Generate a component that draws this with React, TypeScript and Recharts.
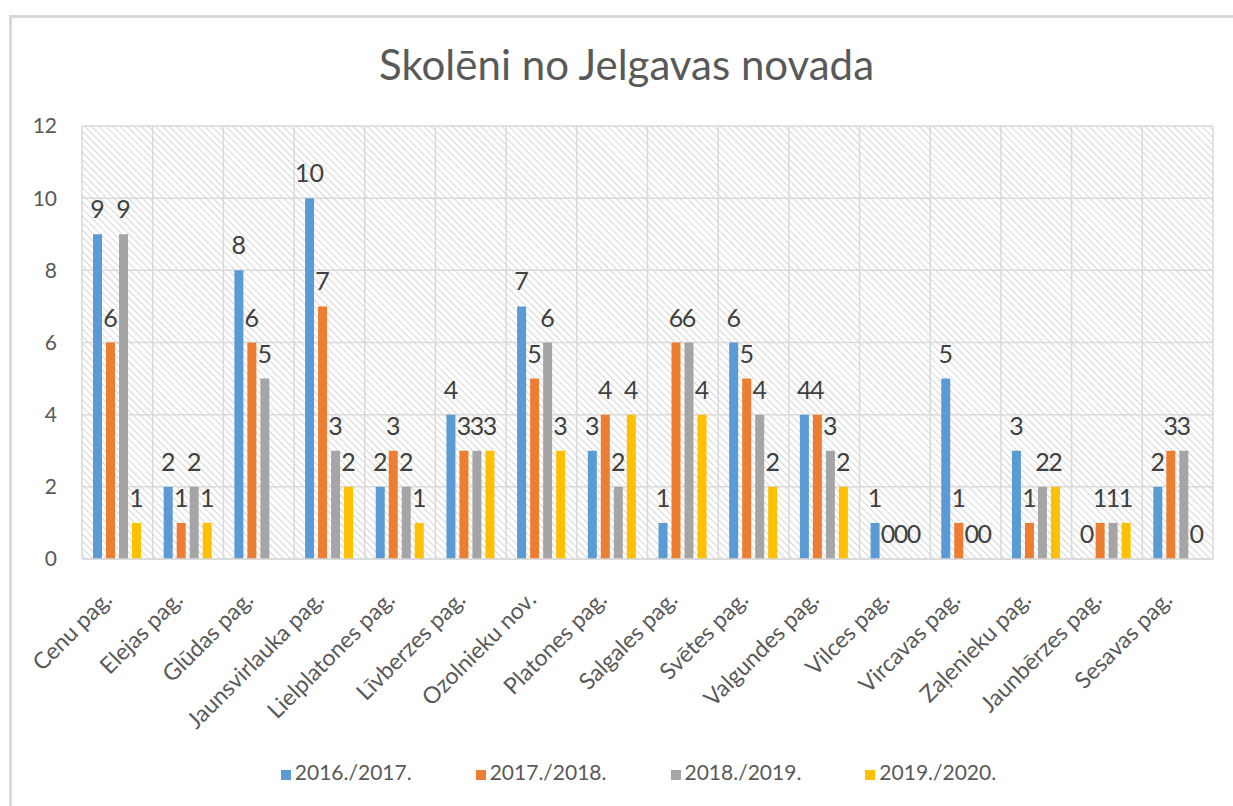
import React from 'react';
import {
  BarChart, Bar, XAxis, YAxis, CartesianGrid, Legend, LabelList, Rectangle,
} from 'recharts';

const categories = [
  'Cenu pag.', 'Elejas pag.', 'Glūdas pag.', 'Jaunsvirlauka pag.', 'Lielplatones pag.',
  'Līvberzes pag.', 'Ozolnieku nov.', 'Platones pag.', 'Salgales pag.', 'Svētes pag.',
  'Valgundes pag.', 'Vilces pag.', 'Vircavas pag.', 'Zaļenieku pag.', 'Jaunbērzes pag.',
  'Sesavas pag.',
];

const y2016 = [9, 2, 8, 10, 2, 4, 7, 3, 1, 6, 4, 1, 5, 3, 0, 2];
const y2017 = [6, 1, 6, 7, 3, 3, 5, 4, 6, 5, 4, 0, 1, 1, 1, 3];
const y2018 = [9, 2, 5, 3, 2, 3, 6, 2, 6, 4, 3, 0, 0, 2, 1, 3];
const y2019 = [1, 1, null, 2, 1, 3, 3, 4, 4, 2, 2, 0, 0, 2, 1, 0];

const yTicks = [0, 2, 4, 6, 8, 10, 12];

const seriesNames = ['2016./2017.', '2017./2018.', '2018./2019.', '2019./2020.'];
const colors = ['#5B9BD5', '#ED7D31', '#A5A5A5', '#FFC000'];

const data = categories.map((name, i) => ({
  name,
  a: y2016[i],
  b: y2017[i],
  c: y2018[i],
  d: y2019[i],
}));

const FONT = 'Lato, "Open Sans", sans-serif';
const TEXT = '#595959';

// rotated category labels, anchored at their end
const CatTick = (props: any) => {
  const { x, y, payload } = props;
  return (
    <g transform={`translate(${x - 4},${y + 34})`}>
      <text transform="rotate(-45)" textAnchor="end" fill={TEXT} fontSize={23} fontFamily={FONT}>
        {payload.value}
      </text>
    </g>
  );
};

// value label above each bar (also for zeros)
const ValueLabel = (p: any) => {
  const { x, y, width, value } = p;
  if (value === null || value === undefined) return null;
  const top = value === 0 ? Number(y) + Number(p.height || 0) : Number(y);
  return (
    <text x={Number(x) + Number(width) / 2} y={top - 16} textAnchor="middle"
      fill="#404040" fontSize={25} fontFamily={FONT}>
      {value}
    </text>
  );
};

// zero values keep a tiny point size so their labels exist, but draw no bar
const zeroMin = (v: any) => (v === 0 ? 0.01 : 0);
const BarShape = (p: any) => (p.height < 0.5 ? <g /> : <Rectangle {...p} />);

export default function App() {
  const keys = ['a', 'b', 'c', 'd'];
  return (
    <div style={{ position: 'absolute', left: 0, top: 0, width: 1233, height: 806, background: '#fff', fontFamily: FONT }}>
      <div style={{
        position: 'absolute', left: 9, top: 15, width: 1230, height: 795,
        borderLeft: '3px solid #d9d9d9', borderTop: '3px solid #d9d9d9', boxSizing: 'border-box',
      }} />
      <div style={{
        position: 'absolute', left: 0, top: 39, width: 1253, textAlign: 'center',
        fontSize: 42, color: TEXT, fontFamily: FONT,
      }}>
        Skolēni no Jelgavas novada
      </div>
      <div style={{ position: 'absolute', left: 0, top: 0 }}>
        <BarChart
          width={1233}
          height={806}
          data={data}
          margin={{ top: 126, right: 20, bottom: 22, left: 0 }}
          barSize={9}
          barGap={4}
        >
          <defs>
            <pattern id="hatch" width="5" height="5" patternUnits="userSpaceOnUse" patternTransform="rotate(-45)">
              <rect width="5" height="5" fill="#ffffff" />
              <line x1="0" y1="0" x2="0" y2="5" stroke="#d6d6d6" strokeWidth="2" />
            </pattern>
          </defs>
          <CartesianGrid
            fill="url(#hatch)"
            stroke="#d9d9d9"
            strokeWidth={1.5}
            verticalCoordinatesGenerator={({ offset }: any) =>
              Array.from({ length: categories.length + 1 }, (_, i) => offset.left + (i * offset.width) / categories.length)
            }
          />
          <XAxis
            dataKey="name"
            interval={0}
            height={200}
            tickLine={false}
            axisLine={{ stroke: '#d9d9d9', strokeWidth: 1.5 }}
            tick={<CatTick />}
          />
          <YAxis
            width={82}
            domain={[0, 12]}
            ticks={yTicks}
            axisLine={false}
            tickLine={false}
            tickSize={0}
            tickMargin={25}
            tick={{ fill: TEXT, fontSize: 21, fontFamily: FONT }}
          />
          <Legend
            verticalAlign="bottom"
            iconType="square"
            iconSize={10}
            wrapperStyle={{ fontSize: 21, fontFamily: FONT, left: 64 }}
            formatter={(v: string) => <span style={{ color: TEXT, marginRight: 54 }}>{v}</span>}
          />
          {keys.map((k, i) => (
            <Bar key={k} dataKey={k} name={seriesNames[i]} fill={colors[i]} isAnimationActive={false}
              minPointSize={zeroMin} shape={BarShape}>
              <LabelList dataKey={k} content={<ValueLabel />} />
            </Bar>
          ))}
        </BarChart>
      </div>
    </div>
  );
}
